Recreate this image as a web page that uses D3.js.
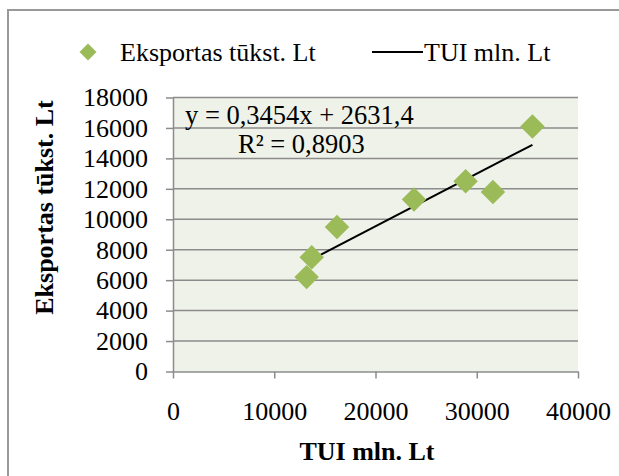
<!DOCTYPE html>
<html>
<head>
<meta charset="utf-8">
<script src="https://cdn.jsdelivr.net/npm/d3@7"></script>
<style>
  body { margin: 0; background: #fff; }
  text { font-family: "Liberation Serif", "Times New Roman", serif; fill: #000; }
</style>
</head>
<body>
<div class="chart"></div>
<script>
// data
const tuiValues = [13200, 13700, 16200, 23800, 28900, 31600, 35500];
const exportValues = [6200, 7500, 9500, 11300, 12500, 11800, 16100];
const xTicks = [0, 10000, 20000, 30000, 40000];
const yTicks = [0, 2000, 4000, 6000, 8000, 10000, 12000, 14000, 16000, 18000];
const trendSlope = 0.3454;
const trendIntercept = 2631.4;
const trendLabel = 'y = 0,3454x + 2631,4';
const r2Label = 'R² = 0,8903';
const seriesNames = ['Eksportas tūkst. Lt', 'TUI mln. Lt'];

const width = 619, height = 476;
const plot = { left: 173, right: 578, top: 97.5, bottom: 371.5 };
const serif = '"Liberation Serif", "Times New Roman", serif';

const svg = d3.select('.chart').append('svg')
    .attr('width', width)
    .attr('height', height);

// outer chart frame (runs off right and bottom)
svg.append('rect')
    .attr('x', 8).attr('y', 10)
    .attr('width', 640).attr('height', 500)
    .attr('fill', '#fff')
    .attr('stroke', '#999')
    .attr('stroke-width', 2);

const x = d3.scaleLinear().domain([0, 40000]).range([plot.left, plot.right]);
const y = d3.scaleLinear().domain([0, 18000]).range([plot.bottom, plot.top]);

// plot area
svg.append('rect')
    .attr('x', plot.left).attr('y', plot.top)
    .attr('width', plot.right - plot.left)
    .attr('height', plot.bottom - plot.top)
    .attr('fill', '#eff2e9');

// horizontal gridlines
svg.append('g')
    .selectAll('line')
    .data(yTicks.filter(d => d > 0))
    .join('line')
    .attr('x1', plot.left).attr('x2', plot.right)
    .attr('y1', d => y(d)).attr('y2', d => y(d))
    .attr('stroke', '#8c8c8c')
    .attr('stroke-width', 1.5);

// axes
const yAxis = svg.append('g')
    .attr('transform', `translate(${plot.left},0)`)
    .call(d3.axisLeft(y).tickValues(yTicks).tickFormat(d3.format('d'))
        .tickSize(7).tickPadding(18).tickSizeOuter(0));

const xAxis = svg.append('g')
    .attr('transform', `translate(0,${plot.bottom})`)
    .call(d3.axisBottom(x).tickValues(xTicks).tickFormat(d3.format('d'))
        .tickSize(7).tickPadding(23).tickSizeOuter(0));

[yAxis, xAxis].forEach(ax => {
  ax.select('.domain').attr('stroke', '#8c8c8c').attr('stroke-width', 1.5);
  ax.selectAll('.tick line').attr('stroke', '#8c8c8c').attr('stroke-width', 1.5);
  ax.selectAll('.tick text')
      .style('font-family', serif)
      .style('font-size', '26px')
      .attr('fill', '#000');
});

// trend line over data range
const xExtent = d3.extent(tuiValues);
svg.append('line')
    .attr('x1', x(xExtent[0])).attr('y1', y(trendSlope * xExtent[0] + trendIntercept))
    .attr('x2', x(xExtent[1])).attr('y2', y(trendSlope * xExtent[1] + trendIntercept))
    .attr('stroke', '#000')
    .attr('stroke-width', 2);

// diamonds
const diamond = d3.symbol().type(d3.symbolSquare).size(300);
svg.append('g')
    .selectAll('path')
    .data(tuiValues)
    .join('path')
    .attr('d', diamond)
    .attr('transform', (d, i) => `translate(${x(d)},${y(exportValues[i])}) rotate(45)`)
    .attr('fill', '#9bbb59');

// trend equation
svg.append('text')
    .text(trendLabel)
    .attr('x', 185).attr('y', 124)
    .style('font-size', '26.5px');
svg.append('text')
    .text(r2Label)
    .attr('x', 238).attr('y', 152.5)
    .style('font-size', '26.5px');

// legend
svg.append('path')
    .attr('d', d3.symbol().type(d3.symbolSquare).size(144))
    .attr('transform', 'translate(88,52) rotate(45)')
    .attr('fill', '#9bbb59');
svg.append('text')
    .text(seriesNames[0])
    .attr('x', 120).attr('y', 61)
    .style('font-size', '26px');
svg.append('line')
    .attr('x1', 372).attr('x2', 423)
    .attr('y1', 52).attr('y2', 52)
    .attr('stroke', '#000')
    .attr('stroke-width', 2);
svg.append('text')
    .text(seriesNames[1])
    .attr('x', 424).attr('y', 61)
    .style('font-size', '26px');

// axis titles
svg.append('text')
    .text('TUI mln. Lt')
    .attr('x', 367).attr('y', 460)
    .attr('text-anchor', 'middle')
    .style('font-weight', 'bold')
    .style('font-size', '26px');

svg.append('text')
    .text('Eksportas tūkst. Lt')
    .attr('transform', 'translate(53,207.5) rotate(-90)')
    .attr('text-anchor', 'middle')
    .style('font-weight', 'bold')
    .style('font-size', '26px');
</script>
</body>
</html>
